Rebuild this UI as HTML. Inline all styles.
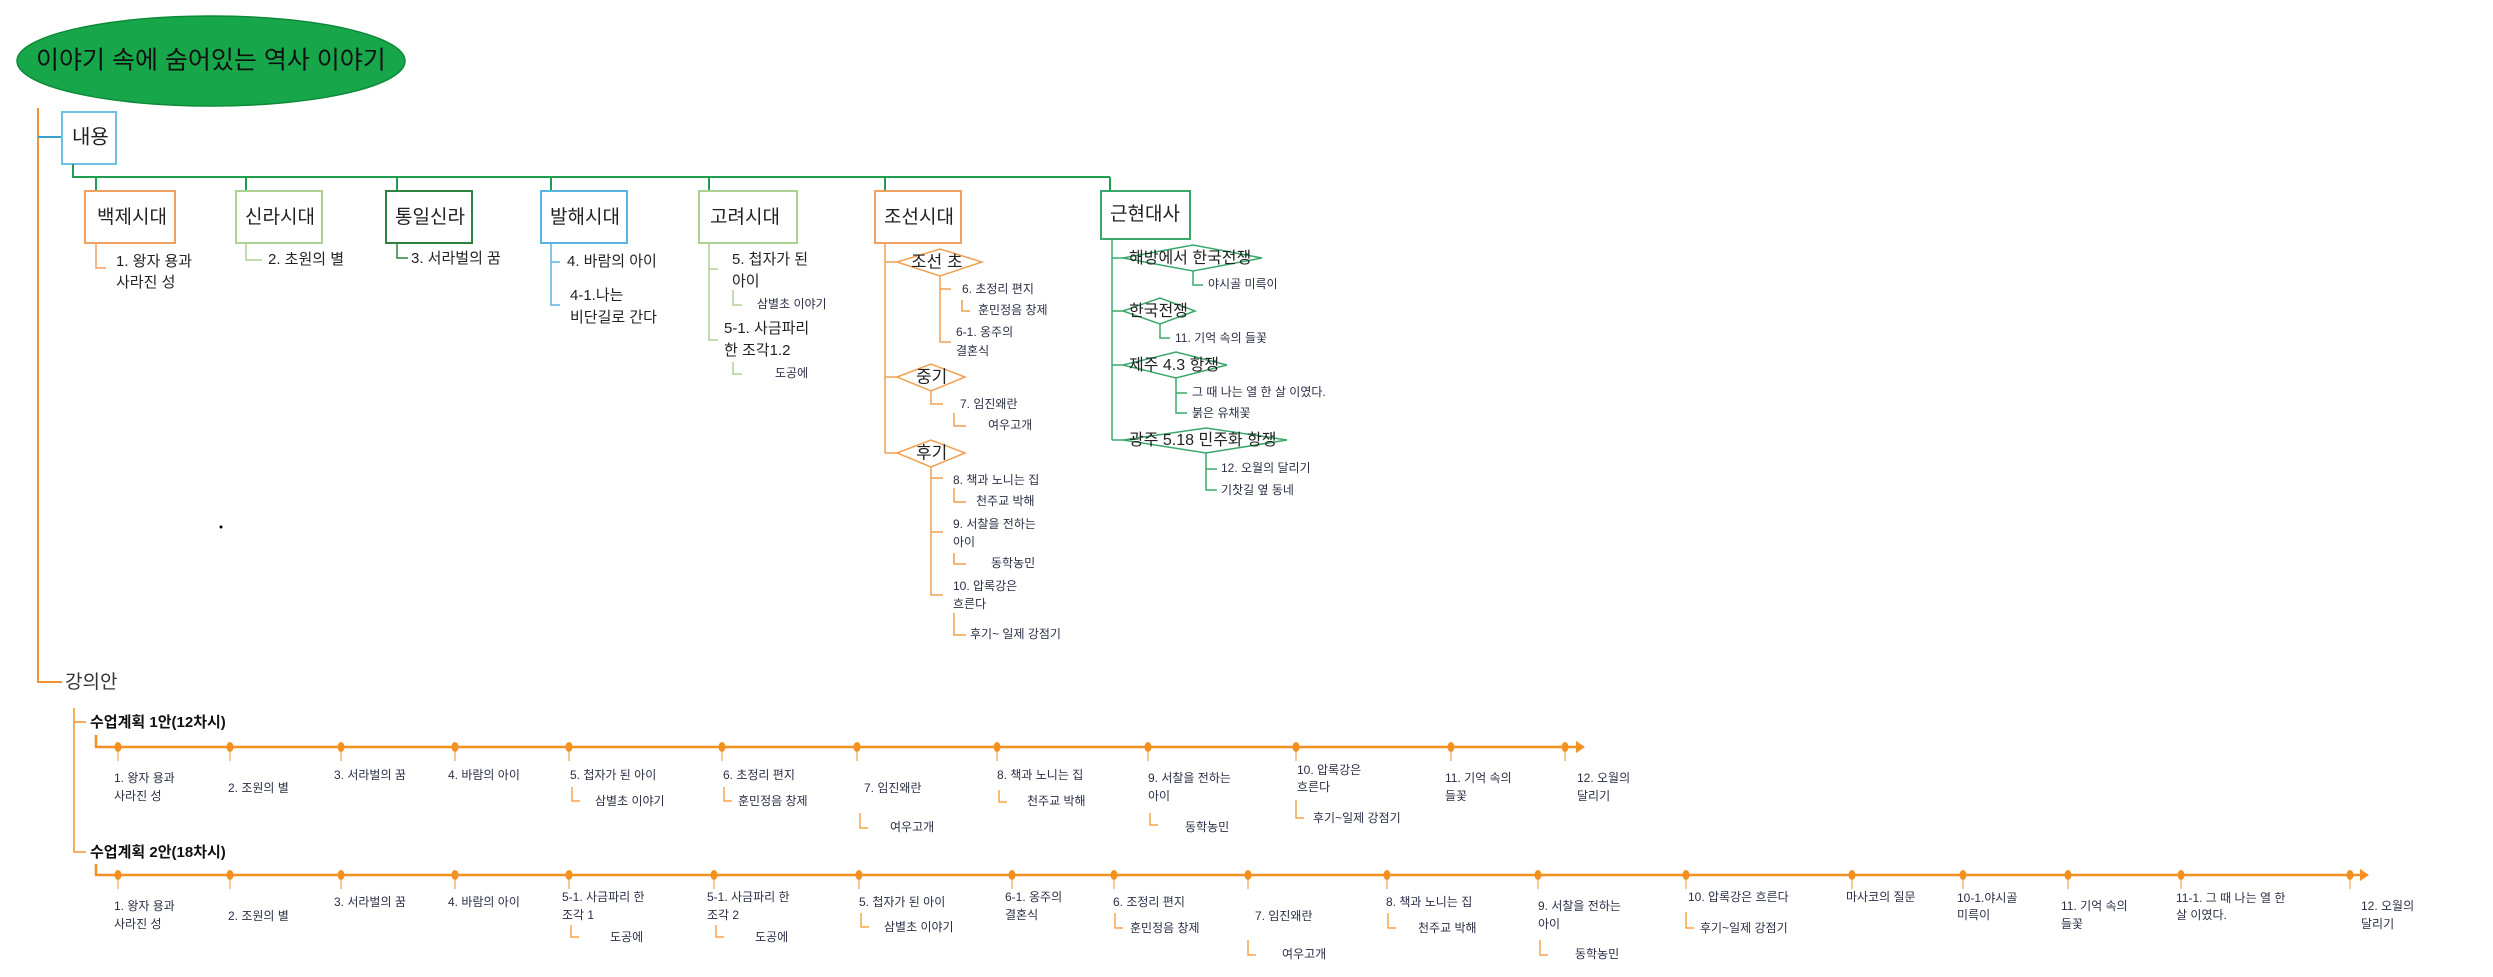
<!DOCTYPE html>
<html><head><meta charset="utf-8">
<style>
html,body{margin:0;padding:0;background:#fff;}
svg{display:block;}
text{font-family:"Liberation Sans","Noto Sans CJK KR",sans-serif;fill:#222;dominant-baseline:middle;}
.s{font-size:12px;fill:#2a2f45;}
.m{font-size:15px;}
.p{font-size:19px;}
.d{font-size:17px;}
.b{font-size:15px;font-weight:bold;fill:#111;}
</style></head><body>
<svg width="2493" height="977" viewBox="0 0 2493 977" xmlns="http://www.w3.org/2000/svg">
<!-- title -->
<ellipse cx="211" cy="61" rx="194" ry="45" fill="#17a74a" stroke="#0d8a38" stroke-width="1.5"/>
<text x="36" y="62" style="font-size:25px;fill:#111">이야기 속에 숨어있는 역사 이야기</text>

<!-- main orange spine -->
<g stroke="#f0922e" stroke-width="2" fill="none">
<path d="M38 108 V682 H62"/>
</g>
<path d="M38 137 H62" stroke="#3aa0c8" stroke-width="2"/>
<rect x="62" y="112" width="54" height="52" fill="#fff" stroke="#6ec1e4" stroke-width="2"/>
<text x="72" y="138" style="font-size:20px">내용</text>

<!-- green bus -->
<g stroke="#1e9e4e" stroke-width="2" fill="none">
<path d="M73 164 V177 H1110"/>
<path d="M96 177 V191 M246 177 V191 M397 177 V191 M551 177 V191 M709 177 V191 M885 177 V191 M1110 177 V191"/>
</g>

<!-- period boxes -->
<rect x="85" y="191" width="90" height="52" fill="#fff" stroke="#f0a060" stroke-width="2"/>
<text x="97" y="218" class="p">백제시대</text>
<rect x="236" y="191" width="86" height="52" fill="#fff" stroke="#aed092" stroke-width="2"/>
<text x="245" y="218" class="p">신라시대</text>
<rect x="386" y="191" width="86" height="52" fill="#fff" stroke="#2e8040" stroke-width="2"/>
<text x="395" y="218" class="p">통일신라</text>
<rect x="541" y="191" width="86" height="52" fill="#fff" stroke="#5ab4e0" stroke-width="2"/>
<text x="550" y="218" class="p">발해시대</text>
<rect x="699" y="191" width="98" height="52" fill="#fff" stroke="#aed092" stroke-width="2"/>
<text x="710" y="218" class="p">고려시대</text>
<rect x="875" y="191" width="86" height="52" fill="#fff" stroke="#f0a060" stroke-width="2"/>
<text x="884" y="218" class="p">조선시대</text>
<rect x="1101" y="191" width="89" height="48" fill="#fff" stroke="#3aa86a" stroke-width="2"/>
<text x="1110" y="215" class="p">근현대사</text>

<!-- children of periods -->
<path d="M96 243 V268 H106" stroke="#f0a060" stroke-width="1.5" fill="none"/>
<text x="116" y="262" class="m">1. 왕자 용과</text>
<text x="116" y="283" class="m">사라진 성</text>

<path d="M246 243 V260 H262" stroke="#aed092" stroke-width="1.5" fill="none"/>
<text x="268" y="260" class="m">2. 초원의 별</text>

<path d="M397 243 V258 H408" stroke="#2e8040" stroke-width="1.5" fill="none"/>
<text x="411" y="259" class="m">3. 서라벌의 꿈</text>

<path d="M551 243 V305 H560 M551 262 H560" stroke="#5ab4e0" stroke-width="1.5" fill="none"/>
<text x="567" y="262" class="m">4. 바람의 아이</text>
<text x="570" y="296" class="m">4-1.나는</text>
<text x="570" y="318" class="m">비단길로 간다</text>

<path d="M709 243 V340 H718 M709 269 H718 M733 290 V305 H742 M733 362 V374 H742" stroke="#aed092" stroke-width="1.5" fill="none"/>
<text x="732" y="260" class="m">5. 첩자가 된</text>
<text x="732" y="282" class="m">아이</text>
<text x="757" y="305" class="s">삼별초 이야기</text>
<text x="724" y="329" class="m">5-1. 사금파리</text>
<text x="724" y="351" class="m">한 조각1.2</text>
<text x="775" y="374" class="s">도공에</text>

<!-- 조선 -->
<g stroke="#f0a050" stroke-width="1.5" fill="none">
<path d="M885 243 V453"/>
<path d="M885 262 H897 M885 377 H897 M885 453 H897"/>
<path d="M940 276 V342 H951 M940 289 H951 M962 300 V311 H970"/>
<path d="M931 391 V404 H943 M954 413 V426 H966"/>
<path d="M931 467 V595 H943 M931 478 H943 M931 532 H943 M954 488 V502 H966 M954 553 V564 H966 M954 613 V635 H966"/>
</g>
<polygon points="897,262 940,249 982,262 940,276" fill="#fff" stroke="#f0a050" stroke-width="1.5"/>
<polygon points="897,377 931,364 965,377 931,391" fill="#fff" stroke="#f0a050" stroke-width="1.5"/>
<polygon points="897,453 931,440 965,453 931,467" fill="#fff" stroke="#f0a050" stroke-width="1.5"/>
<text x="911" y="263" class="d">조선 초</text>
<text x="916" y="378" class="d">중기</text>
<text x="916" y="454" class="d">후기</text>
<text x="962" y="290" class="s">6. 초정리 편지</text>
<text x="978" y="311" class="s">훈민정음 창제</text>
<text x="956" y="333" class="s">6-1. 옹주의</text>
<text x="956" y="352" class="s">결혼식</text>
<text x="960" y="405" class="s">7. 임진왜란</text>
<text x="988" y="426" class="s">여우고개</text>
<text x="953" y="481" class="s">8. 책과 노니는 집</text>
<text x="976" y="502" class="s">천주교 박해</text>
<text x="953" y="525" class="s">9. 서찰을 전하는</text>
<text x="953" y="543" class="s">아이</text>
<text x="991" y="564" class="s">동학농민</text>
<text x="953" y="587" class="s">10. 압록강은</text>
<text x="953" y="605" class="s">흐른다</text>
<text x="970" y="635" class="s">후기~ 일제 강점기</text>

<!-- 근현대사 -->
<g stroke="#3aa86a" stroke-width="1.5" fill="none">
<path d="M1112 239 V440 M1112 258 H1123 M1112 311 H1123 M1112 365 H1123 M1112 440 H1123"/>
<path d="M1193 271 V285 H1203 M1160 324 V338 H1170 M1176 378 V413 H1187 M1176 393 H1187 M1206 453 V490 H1217 M1206 469 H1217"/>
</g>
<polygon points="1123,258 1193,245 1262,258 1193,271" fill="#fff" stroke="#3aa86a" stroke-width="1.5"/>
<polygon points="1123,311 1160,298 1195,311 1160,324" fill="#fff" stroke="#3aa86a" stroke-width="1.5"/>
<polygon points="1123,365 1176,352 1227,365 1176,378" fill="#fff" stroke="#3aa86a" stroke-width="1.5"/>
<polygon points="1123,440 1206,428 1287,440 1206,453" fill="#fff" stroke="#3aa86a" stroke-width="1.5"/>
<text x="1129" y="259" style="font-size:16px">해방에서 한국전쟁</text>
<text x="1129" y="312" style="font-size:16px">한국전쟁</text>
<text x="1129" y="366" style="font-size:16px">제주 4.3 항쟁</text>
<text x="1129" y="441" style="font-size:16px">광주 5.18 민주화 항쟁</text>
<text x="1208" y="285" class="s">야시골 미륵이</text>
<text x="1175" y="339" class="s">11. 기억 속의 들꽃</text>
<text x="1192" y="393" class="s">그 때 나는 열 한 살 이였다.</text>
<text x="1192" y="414" class="s">붉은 유채꽃</text>
<text x="1221" y="469" class="s">12. 오월의 달리기</text>
<text x="1221" y="491" class="s">기찻길 옆 동네</text>

<circle cx="221" cy="527" r="1.5" fill="#000"/>

<!-- 강의안 -->
<text x="65" y="683" style="font-size:19px;fill:#333">강의안</text>
<path d="M74 708 V852 H86 M74 722 H86" stroke="#f0922e" stroke-width="1.5" fill="none"/>
<text x="90" y="723" class="b">수업계획 1안(12차시)</text>
<text x="90" y="853" class="b">수업계획 2안(18차시)</text>

<!-- timeline 1 -->
<g stroke="#f39020" fill="none">
<path d="M96 735 V747 H1578" stroke-width="2.5"/>
<path stroke-width="1" d="M118 747 V761 M230 747 V761 M341 747 V761 M455 747 V761 M569 747 V761 M722 747 V761 M857 747 V761 M997 747 V761 M1148 747 V761 M1296 747 V761 M1451 747 V761 M1565 747 V761"/>
<path stroke-width="1.2" d="M572 787 V801 H580 M724 787 V801 H732 M860 813 V828 H868 M999 790 V802 H1007 M1150 813 V825 H1158 M1296 800 V818 H1304"/>
</g>
<polygon points="1576,741 1585,747 1576,753" fill="#f39020"/>
<g fill="#f39020">
<ellipse cx="118" cy="747" rx="3.5" ry="5"/><ellipse cx="230" cy="747" rx="3.5" ry="5"/><ellipse cx="341" cy="747" rx="3.5" ry="5"/><ellipse cx="455" cy="747" rx="3.5" ry="5"/><ellipse cx="569" cy="747" rx="3.5" ry="5"/><ellipse cx="722" cy="747" rx="3.5" ry="5"/><ellipse cx="857" cy="747" rx="3.5" ry="5"/><ellipse cx="997" cy="747" rx="3.5" ry="5"/><ellipse cx="1148" cy="747" rx="3.5" ry="5"/><ellipse cx="1296" cy="747" rx="3.5" ry="5"/><ellipse cx="1451" cy="747" rx="3.5" ry="5"/><ellipse cx="1565" cy="747" rx="3.5" ry="5"/>
</g>
<text x="114" y="779" class="s">1. 왕자 용과</text><text x="114" y="797" class="s">사라진 성</text>
<text x="228" y="789" class="s">2. 조원의 별</text>
<text x="334" y="776" class="s">3. 서라벌의 꿈</text>
<text x="448" y="776" class="s">4. 바람의 아이</text>
<text x="570" y="776" class="s">5. 첩자가 된 아이</text><text x="595" y="802" class="s">삼별초 이야기</text>
<text x="723" y="776" class="s">6. 초정리 편지</text><text x="738" y="802" class="s">훈민정음 창제</text>
<text x="864" y="789" class="s">7. 임진왜란</text><text x="890" y="828" class="s">여우고개</text>
<text x="997" y="776" class="s">8. 책과 노니는 집</text><text x="1027" y="802" class="s">천주교 박해</text>
<text x="1148" y="779" class="s">9. 서찰을 전하는</text><text x="1148" y="797" class="s">아이</text><text x="1185" y="828" class="s">동학농민</text>
<text x="1297" y="771" class="s">10. 압록강은</text><text x="1297" y="788" class="s">흐른다</text><text x="1313" y="819" class="s">후기~일제 강점기</text>
<text x="1445" y="779" class="s">11. 기억 속의</text><text x="1445" y="797" class="s">들꽃</text>
<text x="1577" y="779" class="s">12. 오월의</text><text x="1577" y="797" class="s">달리기</text>

<!-- timeline 2 -->
<g stroke="#f39020" fill="none">
<path d="M96 864 V875 H2362" stroke-width="2.5"/>
<path stroke-width="1" d="M118 875 V889 M230 875 V889 M341 875 V889 M455 875 V889 M569 875 V889 M714 875 V889 M859 875 V889 M1012 875 V889 M1114 875 V889 M1248 875 V889 M1387 875 V889 M1538 875 V889 M1686 875 V889 M1852 875 V889 M1963 875 V889 M2068 875 V889 M2181 875 V889 M2350 875 V889"/>
<path stroke-width="1.2" d="M571 925 V937 H579 M716 925 V937 H724 M861 913 V927 H869 M1115 913 V928 H1123 M1248 940 V955 H1256 M1388 913 V928 H1396 M1540 940 V955 H1548 M1686 912 V928 H1694"/>
</g>
<polygon points="2360,869 2369,875 2360,881" fill="#f39020"/>
<g fill="#f39020">
<ellipse cx="118" cy="875" rx="3.5" ry="5"/><ellipse cx="230" cy="875" rx="3.5" ry="5"/><ellipse cx="341" cy="875" rx="3.5" ry="5"/><ellipse cx="455" cy="875" rx="3.5" ry="5"/><ellipse cx="569" cy="875" rx="3.5" ry="5"/><ellipse cx="714" cy="875" rx="3.5" ry="5"/><ellipse cx="859" cy="875" rx="3.5" ry="5"/><ellipse cx="1012" cy="875" rx="3.5" ry="5"/><ellipse cx="1114" cy="875" rx="3.5" ry="5"/><ellipse cx="1248" cy="875" rx="3.5" ry="5"/><ellipse cx="1387" cy="875" rx="3.5" ry="5"/><ellipse cx="1538" cy="875" rx="3.5" ry="5"/><ellipse cx="1686" cy="875" rx="3.5" ry="5"/><ellipse cx="1852" cy="875" rx="3.5" ry="5"/><ellipse cx="1963" cy="875" rx="3.5" ry="5"/><ellipse cx="2068" cy="875" rx="3.5" ry="5"/><ellipse cx="2181" cy="875" rx="3.5" ry="5"/><ellipse cx="2350" cy="875" rx="3.5" ry="5"/>
</g>
<text x="114" y="907" class="s">1. 왕자 용과</text><text x="114" y="925" class="s">사라진 성</text>
<text x="228" y="917" class="s">2. 조원의 별</text>
<text x="334" y="903" class="s">3. 서라벌의 꿈</text>
<text x="448" y="903" class="s">4. 바람의 아이</text>
<text x="562" y="898" class="s">5-1. 사금파리 한</text><text x="562" y="916" class="s">조각 1</text><text x="610" y="938" class="s">도공에</text>
<text x="707" y="898" class="s">5-1. 사금파리 한</text><text x="707" y="916" class="s">조각 2</text><text x="755" y="938" class="s">도공에</text>
<text x="859" y="903" class="s">5. 첩자가 된 아이</text><text x="884" y="928" class="s">삼별초 이야기</text>
<text x="1005" y="898" class="s">6-1. 옹주의</text><text x="1005" y="916" class="s">결혼식</text>
<text x="1113" y="903" class="s">6. 조정리 편지</text><text x="1130" y="929" class="s">훈민정음 창제</text>
<text x="1255" y="917" class="s">7. 임진왜란</text><text x="1282" y="955" class="s">여우고개</text>
<text x="1386" y="903" class="s">8. 책과 노니는 집</text><text x="1418" y="929" class="s">천주교 박해</text>
<text x="1538" y="907" class="s">9. 서찰을 전하는</text><text x="1538" y="925" class="s">아이</text><text x="1575" y="955" class="s">동학농민</text>
<text x="1688" y="898" class="s">10. 압록강은 흐른다</text><text x="1700" y="929" class="s">후기~일제 강점기</text>
<text x="1846" y="898" class="s">마사코의 질문</text>
<text x="1957" y="899" class="s">10-1.야시골</text><text x="1957" y="916" class="s">미륵이</text>
<text x="2061" y="907" class="s">11. 기억 속의</text><text x="2061" y="925" class="s">들꽃</text>
<text x="2176" y="899" class="s">11-1. 그 때 나는 열 한</text><text x="2176" y="916" class="s">살 이였다.</text>
<text x="2361" y="907" class="s">12. 오월의</text><text x="2361" y="925" class="s">달리기</text>
</svg>
</body></html>
